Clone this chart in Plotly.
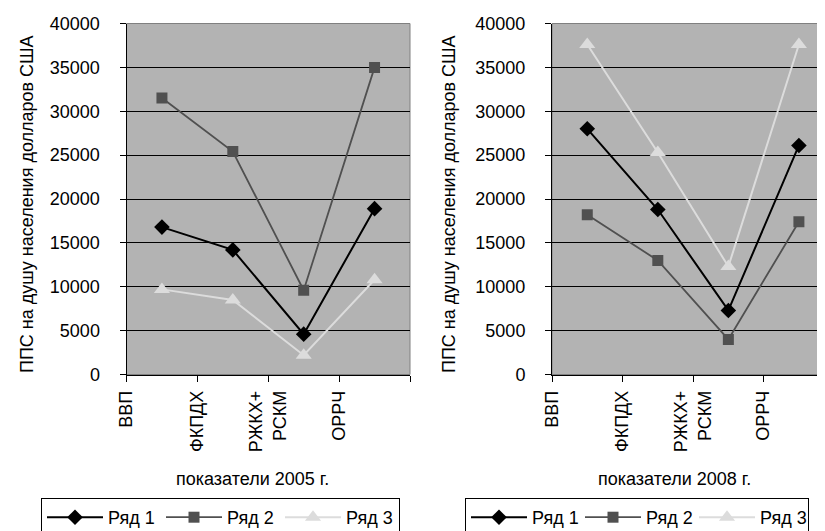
import plotly.graph_objects as go

categories = ["ВВП", "ФКПДХ", "РЖКХ+<br>РСКМ", "ОРРЧ"]
series_names = ["Ряд 1", "Ряд 2", "Ряд 3"]

# 2005
r1_2005 = [16800, 14200, 4600, 18900]
r2_2005 = [31500, 25400, 9600, 35000]
r3_2005 = [9700, 8500, 2200, 10800]
# 2008
r1_2008 = [28000, 18800, 7300, 26100]
r2_2008 = [18200, 13000, 4000, 17400]
r3_2008 = [37600, 25300, 12300, 37600]

y_title = "ППС на душу населения долларов США"
x_titles = ["показатели 2005 г.", "показатели 2008 г."]

FONT = "Liberation Sans, Arial, sans-serif"
FS = 18
# the page has a default 8px body margin; compensate so the picture lines up
OFF = 8
W, H = 825 - OFF, 531 - OFF

styles = [
    dict(color="#000000", symbol="diamond", size=12, width=2),
    dict(color="#505050", symbol="square", size=11, width=1.8),
    dict(color="#dcdcdc", symbol="triangle-up", size=14, width=2),
]

# point positions: centred within each category slot (Excel style)
xpos = [i + 0.5 for i in range(len(categories))]

fig = go.Figure()
panels = [
    ("x", "y", "legend", [r1_2005, r2_2005, r3_2005]),
    ("x2", "y2", "legend2", [r1_2008, r2_2008, r3_2008]),
]
for xa, ya, lg, data in panels:
    for name, vals, st in zip(series_names, data, styles):
        fig.add_trace(go.Scatter(
            x=xpos, y=vals, name=name, mode="lines+markers",
            xaxis=xa, yaxis=ya, legend=lg,
            line=dict(color=st["color"], width=st["width"]),
            marker=dict(symbol=st["symbol"], size=st["size"], color=st["color"]),
        ))

def px(v):
    return (v - OFF) / W

def py(v):
    return 1 - (v - OFF) / H

tickvals = list(range(len(categories) + 1))
ticktext = categories + [""]

common_x = dict(
    tickmode="array", tickvals=tickvals, ticktext=ticktext, tickangle=-90,
    showgrid=False, zeroline=False, showline=True, linecolor="#000000", linewidth=1,
    ticks="outside", ticklen=6, tickcolor="#000000",
    tickfont=dict(family=FONT, size=FS, color="#000000"), ticklabelstandoff=2,
)
common_y = dict(
    range=[0, 40000], dtick=5000, tickformat="d",
    showgrid=True, gridcolor="#000000", gridwidth=1, zeroline=False,
    showline=True, linecolor="#000000", linewidth=1,
    ticks="outside", ticklen=6, tickcolor="#000000",
    tickfont=dict(family=FONT, size=FS, color="#000000"), ticklabelstandoff=16,
)

top, bottom = 23.5, 374.5
legend_common = dict(
    orientation="h", xanchor="left", yanchor="top",
    bordercolor="#000000", borderwidth=1, bgcolor="#ffffff",
    font=dict(family=FONT, size=FS, color="#000000"),
    itemwidth=56,
)
fig.update_layout(
    width=W, height=H,
    margin=dict(l=0, r=0, t=0, b=0, autoexpand=False),
    paper_bgcolor="#ffffff",
    plot_bgcolor="#b3b3b3",
    xaxis=dict(domain=[px(126.5), px(410)], range=[0, 4], anchor="y", **common_x),
    yaxis=dict(domain=[py(bottom), py(top)], anchor="x", **common_y),
    xaxis2=dict(domain=[px(552), 1.0], range=[0, 3.87], anchor="y2", **common_x),
    yaxis2=dict(domain=[py(bottom), py(top)], anchor="x2", **common_y),
    legend=dict(x=px(41), y=py(498), entrywidth=48, **legend_common),
    legend2=dict(x=px(465), y=py(498), entrywidth=43, **legend_common),
    showlegend=True,
)

# plot-area borders (top/right)
for xr, yr in [("x domain", "y domain"), ("x2 domain", "y2 domain")]:
    fig.add_shape(type="rect", xref=xr, yref=yr, x0=0, x1=1, y0=0, y1=1,
                  line=dict(color="#808080", width=1), layer="below")

annotations = [
    dict(x=px(252), y=py(479), text=x_titles[0]),
    dict(x=px(674), y=py(479), text=x_titles[1]),
    dict(x=px(27), y=py(204), text=y_title, textangle=-90),
    dict(x=px(449), y=py(204), text=y_title, textangle=-90),
]
for a in annotations:
    fig.add_annotation(xref="paper", yref="paper", showarrow=False,
                       xanchor="center", yanchor="middle",
                       font=dict(family=FONT, size=FS, color="#000000"), **a)

fig.write_html("out.html")
